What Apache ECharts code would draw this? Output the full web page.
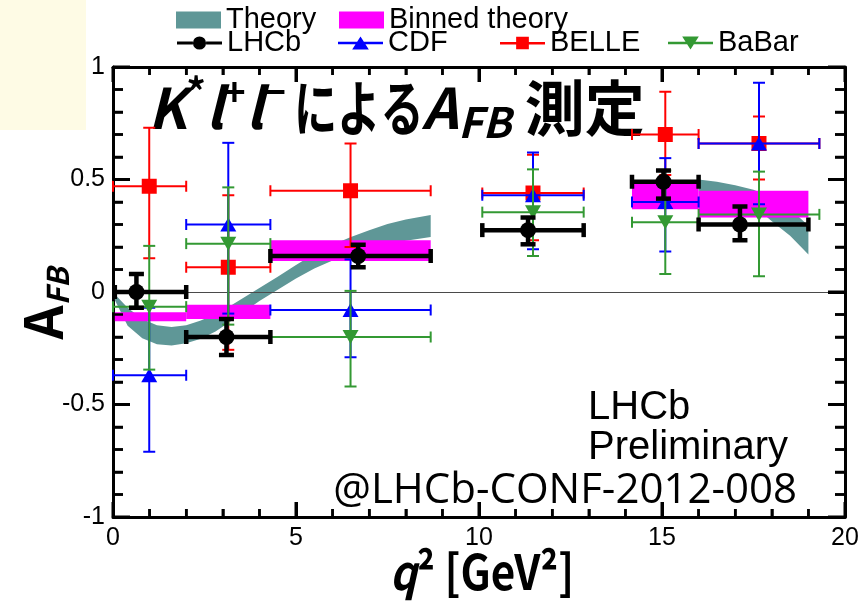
<!DOCTYPE html>
<html>
<head>
<meta charset="utf-8">
<script src="https://cdn.jsdelivr.net/npm/echarts@6/dist/echarts.min.js"></script>
<style>
  html, body { margin: 0; padding: 0; background: #ffffff; }
  #chart { width: 863px; height: 601px; }
</style>
</head>
<body>
<div id="chart"></div>
<script>
// Axis ranges and tick positions
const q2Range = [0, 20];
const afbRange = [-1, 1];
const q2TickStep = 5;
const afbTickStep = 0.5;
const q2Ticks = [0, 5, 10, 15, 20];
const q2MinorTicks = [1, 2, 3, 4, 6, 7, 8, 9, 11, 12, 13, 14, 16, 17, 18, 19];
const afbTicks = [-1, -0.5, 0, 0.5, 1];
const afbMinorTicks = [-0.9, -0.8, -0.7, -0.6, -0.4, -0.3, -0.2, -0.1, 0.1, 0.2, 0.3, 0.4, 0.6, 0.7, 0.8, 0.9];

// Measurements per q² bin: [q2Lo, q2Hi, q2Point, afb, errDown, errUp]
const lhcb = [
  [0.05, 2.00, 0.64, 0.00, 0.07, 0.08],
  [2.00, 4.30, 3.10, -0.20, 0.08, 0.08],
  [4.30, 8.68, 6.70, 0.16, 0.05, 0.05],
  [10.09, 12.86, 11.34, 0.275, 0.063, 0.056],
  [14.18, 16.00, 15.04, 0.49, 0.075, 0.05],
  [16.00, 19.00, 17.13, 0.30, 0.07, 0.08]
];
const cdf = [
  [0.00, 2.00, 0.99, -0.37, 0.34, 0.30],
  [2.00, 4.30, 3.15, 0.30, 0.396, 0.363],
  [4.30, 8.68, 6.49, -0.08, 0.21, 0.225],
  [10.09, 12.86, 11.475, 0.43, 0.24, 0.19],
  [14.18, 16.00, 15.09, 0.40, 0.22, 0.195],
  [16.00, 19.30, 17.65, 0.66, 0.27, 0.27]
];
const belle = [
  [0.00, 2.00, 0.99, 0.47, 0.32, 0.26],
  [2.00, 4.30, 3.15, 0.11, 0.367, 0.32],
  [4.30, 8.68, 6.49, 0.45, 0.25, 0.21],
  [10.09, 12.86, 11.475, 0.44, 0.21, 0.17],
  [14.18, 16.00, 15.09, 0.70, 0.18, 0.19],
  [16.00, 19.30, 17.65, 0.66, 0.16, 0.12]
];
const babar = [
  [0.00, 2.00, 0.99, -0.065, 0.28, 0.27],
  [2.00, 4.30, 3.15, 0.215, 0.36, 0.25],
  [4.30, 8.68, 6.49, -0.20, 0.22, 0.205],
  [10.09, 12.86, 11.475, 0.355, 0.195, 0.19],
  [14.18, 16.00, 15.09, 0.31, 0.23, 0.23],
  [16.00, 19.30, 17.65, 0.345, 0.275, 0.19]
];

// Binned SM prediction: [q2Lo, q2Hi, afbLo, afbHi]
const binnedTheory = [
  [0.05, 2.00, -0.13, -0.09],
  [2.00, 4.30, -0.12, -0.057],
  [4.30, 8.68, 0.138, 0.23],
  [14.18, 16.00, 0.368, 0.488],
  [16.00, 19.00, 0.331, 0.45]
];

// SM prediction band: [q2, afbLo, afbHi]
const theoryBandLow = [
  [0.05, -0.035, -0.01], [0.4, -0.15, -0.07], [0.8, -0.205, -0.12],
  [1.2, -0.232, -0.148], [1.6, -0.238, -0.155], [2.0, -0.228, -0.148],
  [2.4, -0.208, -0.127], [2.8, -0.175, -0.098], [3.2, -0.132, -0.062],
  [3.6, -0.085, -0.022], [4.0, -0.04, 0.018], [4.5, 0.01, 0.068],
  [5.0, 0.06, 0.12], [5.5, 0.105, 0.17], [6.0, 0.14, 0.21],
  [6.5, 0.168, 0.245], [7.0, 0.192, 0.275], [7.5, 0.212, 0.302],
  [8.0, 0.228, 0.322], [8.68, 0.245, 0.342]
];
const theoryBandHigh = [
  [16.0, 0.45, 0.50], [16.5, 0.44, 0.49], [17.0, 0.42, 0.475],
  [17.5, 0.385, 0.455], [18.0, 0.315, 0.42], [18.5, 0.25, 0.37],
  [19.0, 0.167, 0.295]
];

const COLORS = {
  theory: '#5f9797',
  binned: '#ff00ff',
  lhcb: '#000000',
  cdf: '#0000ff',
  belle: '#ff0000',
  babar: '#339933'
};

const chart = echarts.init(document.getElementById('chart'), null, { renderer: 'canvas' });

// Shaded band through the library's coordinate system
function bandSeries(name, band, z) {
  return {
    type: 'custom', name: name, z: z, silent: true,
    data: [band[0]],
    renderItem: function (params, api) {
      const upper = band.map(function (r) { return api.coord([r[0], r[2]]); });
      const lower = band.slice().reverse().map(function (r) { return api.coord([r[0], r[1]]); });
      return {
        type: 'polygon',
        shape: { points: upper.concat(lower) },
        style: { fill: COLORS.theory, stroke: null }
      };
    }
  };
}

// Error crosses: horizontal bin width plus vertical uncertainty, both capped
function errorSeries(name, rows, color, lw, capX, capY, z) {
  return {
    type: 'custom', name: name, z: z, silent: true,
    data: rows,
    renderItem: function (params, api) {
      const lo = api.value(0), hi = api.value(1), xc = api.value(2);
      const y = api.value(3), dn = api.value(4), up = api.value(5);
      const pL = api.coord([lo, y]);
      const pR = api.coord([hi, y]);
      const pB = api.coord([xc, y - dn]);
      const pT = api.coord([xc, y + up]);
      const seg = function (x1, y1, x2, y2) {
        return { type: 'line', shape: { x1: x1, y1: y1, x2: x2, y2: y2 },
          style: { stroke: color, lineWidth: lw, fill: null } };
      };
      return {
        type: 'group',
        children: [
          seg(pL[0], pL[1], pR[0], pR[1]),
          seg(pB[0], pB[1], pT[0], pT[1]),
          seg(pL[0], pL[1] - capX, pL[0], pL[1] + capX),
          seg(pR[0], pR[1] - capX, pR[0], pR[1] + capX),
          seg(pB[0] - capY, pB[1], pB[0] + capY, pB[1]),
          seg(pT[0] - capY, pT[1], pT[0] + capY, pT[1])
        ]
      };
    }
  };
}

function markerSeries(name, rows, color, symbol, size, rotate, z) {
  return {
    type: 'scatter', name: name, z: z, silent: true,
    data: rows.map(function (r) { return [r[2], r[3]]; }),
    symbol: symbol, symbolSize: size, symbolRotate: rotate,
    itemStyle: { color: color, opacity: 1, borderWidth: 0 },
    emphasis: { disabled: true }
  };
}

const binnedSeries = {
  type: 'custom', name: 'Binned theory', z: 3, silent: true,
  data: binnedTheory,
  renderItem: function (params, api) {
    const a = api.coord([api.value(0), api.value(3)]);
    const b = api.coord([api.value(1), api.value(2)]);
    return {
      type: 'rect',
      shape: { x: a[0], y: a[1], width: b[0] - a[0], height: b[1] - a[1] },
      style: { fill: COLORS.binned, stroke: null }
    };
  },
  markLine: {
    silent: true, symbol: 'none', animation: false,
    label: { show: false },
    lineStyle: { color: '#4a4a4a', width: 1.2, type: 'solid' },
    data: [{ yAxis: 0 }]
  }
};

// Inward tick marks on all four sides of the frame
const frameTickSeries = {
  type: 'custom', name: 'frame ticks', z: 30, silent: true,
  data: [[q2Range[0], afbRange[0]]],
  renderItem: function (params, api) {
    const children = [];
    const add = function (x1, y1, x2, y2, w) {
      children.push({ type: 'line', shape: { x1: x1, y1: y1, x2: x2, y2: y2 },
        style: { stroke: '#000', lineWidth: w, fill: null } });
    };
    const xTick = function (v, len, w) {
      const b = api.coord([v, afbRange[0]]);
      const t = api.coord([v, afbRange[1]]);
      add(b[0], b[1], b[0], b[1] - len, w);
      add(t[0], t[1], t[0], t[1] + len, w);
    };
    const yTick = function (v, len, w) {
      const l = api.coord([q2Range[0], v]);
      const r = api.coord([q2Range[1], v]);
      add(l[0], l[1], l[0] + len, l[1], w);
      add(r[0], r[1], r[0] - len, r[1], w);
    };
    q2Ticks.forEach(function (v) { xTick(v, 15, 3); });
    q2MinorTicks.forEach(function (v) { xTick(v, 8, 2.5); });
    afbTicks.forEach(function (v) { yTick(v, 17, 3); });
    afbMinorTicks.forEach(function (v) { yTick(v, 10, 2.5); });
    return { type: 'group', children: children };
  }
};

function xAxisDef(position, showLabel) {
  return {
    type: 'value', position: position, min: q2Range[0], max: q2Range[1], interval: q2TickStep,
    axisLine: { show: true, onZero: false, lineStyle: { color: '#000', width: 3 } },
    axisTick: { show: true, inside: true, length: 15, lineStyle: { color: '#000', width: 3 } },
    minorTick: { show: true, splitNumber: 5, length: 8, lineStyle: { color: '#000', width: 2.5 } },
    axisLabel: { show: showLabel, margin: 9, fontFamily: 'Liberation Sans', fontSize: 25, color: '#000' },
    splitLine: { show: false }
  };
}
function yAxisDef(position, showLabel) {
  return {
    type: 'value', position: position, min: afbRange[0], max: afbRange[1], interval: afbTickStep,
    axisLine: { show: true, onZero: false, lineStyle: { color: '#000', width: 3 } },
    axisTick: { show: true, inside: true, length: 17, lineStyle: { color: '#000', width: 3 } },
    minorTick: { show: true, splitNumber: 5, length: 10, lineStyle: { color: '#000', width: 2.5 } },
    axisLabel: { show: showLabel, margin: 8, fontFamily: 'Liberation Sans', fontSize: 25, color: '#000' },
    splitLine: { show: false }
  };
}

function legendBox(name, left, top, icon, color, w, h) {
  return {
    show: true, left: left, top: top, padding: 0, orient: 'horizontal',
    selectedMode: false, itemWidth: w, itemHeight: h, itemGap: 0,
    textStyle: { fontFamily: 'Liberation Sans', fontSize: 29, color: '#000', lineHeight: 30 },
    data: [{ name: name, icon: icon, itemStyle: { color: color, borderWidth: 0 } }]
  };
}

const ICONS = {
  lhcb: 'path://M0,7h17v3h-17z M31,7h17v3h-17z M17,8.5a7,7 0 1,1 14,0a7,7 0 1,1 -14,0z',
  cdf: 'path://M0,7h46v2.5h-46z M14.5,15L23,1.5L31.5,15z',
  belle: 'path://M0,7h46v2.5h-46z M16.5,1.5h13v13h-13z',
  babar: 'path://M0,7h46v2.5h-46z M14.5,1.5L31.5,1.5L23,15z'
};

const jpFont = 'Noto Sans CJK JP';

const option = {
  animation: false,
  backgroundColor: '#ffffff',
  grid: { left: 113, right: 18, top: 67, bottom: 84 },
  xAxis: [xAxisDef('bottom', true), xAxisDef('top', false)],
  yAxis: [yAxisDef('left', true), yAxisDef('right', false)],
  legend: [
    legendBox('Theory', 176, 5, 'rect', COLORS.theory, 45, 17),
    legendBox('Binned theory', 339, 5, 'rect', COLORS.binned, 45, 17),
    legendBox('LHCb', 177, 28, ICONS.lhcb, COLORS.lhcb, 45, 15),
    legendBox('CDF', 338, 28, ICONS.cdf, COLORS.cdf, 45, 15),
    legendBox('BELLE', 500, 28, ICONS.belle, COLORS.belle, 45, 15),
    legendBox('BaBar', 668, 28, ICONS.babar, COLORS.babar, 45, 15)
  ],
  series: [
    bandSeries('Theory', theoryBandLow, 2),
    bandSeries('Theory', theoryBandHigh, 2),
    binnedSeries,
    errorSeries('BELLE', belle, COLORS.belle, 2, 5.5, 6, 10),
    markerSeries('BELLE', belle, COLORS.belle, 'rect', 15, 0, 11),
    errorSeries('CDF', cdf, COLORS.cdf, 2, 5.5, 6, 12),
    markerSeries('CDF', cdf, COLORS.cdf, 'triangle', [16, 14], 0, 13),
    errorSeries('BaBar', babar, COLORS.babar, 2, 5.5, 6, 14),
    markerSeries('BaBar', babar, COLORS.babar, 'triangle', [16, 14], 180, 15),
    errorSeries('LHCb', lhcb, COLORS.lhcb, 4.5, 7, 7.5, 16),
    markerSeries('LHCb', lhcb, COLORS.lhcb, 'circle', 16, 0, 17),
    frameTickSeries
  ],
  graphic: [
    { type: 'rect', silent: true, shape: { x: 0, y: 0, width: 86, height: 130 },
      style: { fill: '#fefbe5' } },
    // Title pieces
    { type: 'text', x: 148, y: 73, silent: true,
      style: {
        text: '{it|K}{sup|*}{it|l}{sup|+}{it|l}{sup|\u2212}',
        textAlign: 'left', textVerticalAlign: 'top', align: 'left', verticalAlign: 'top',
        rich: {
          it: { fontFamily: jpFont, fontSize: 56, fontWeight: 'bold', fontStyle: 'italic', lineHeight: 70, fill: '#000' },
          sup: { fontFamily: jpFont, fontSize: 38, fontWeight: 'bold', lineHeight: 44, verticalAlign: 'top', fill: '#000' }
        }
      } },
    { type: 'text', x: 294, y: 73, scaleX: 0.72, silent: true,
      style: {
        text: '{jp|による}',
        textAlign: 'left', textVerticalAlign: 'top', align: 'left', verticalAlign: 'top',
        rich: { jp: { fontFamily: jpFont, fontSize: 60, fontWeight: 'bold', lineHeight: 70, fill: '#000' } }
      } },
    { type: 'text', x: 422, y: 73, silent: true,
      style: {
        text: '{it|A}{sub|FB}{jp| 測定}',
        textAlign: 'left', textVerticalAlign: 'top', align: 'left', verticalAlign: 'top',
        rich: {
          it: { fontFamily: jpFont, fontSize: 56, fontWeight: 'bold', fontStyle: 'italic', lineHeight: 70, fill: '#000' },
          sub: { fontFamily: jpFont, fontSize: 42, fontWeight: 'bold', fontStyle: 'italic', lineHeight: 30, verticalAlign: 'bottom', fill: '#000' },
          jp: { fontFamily: jpFont, fontSize: 60, fontWeight: 'bold', lineHeight: 70, fill: '#000' }
        }
      } },
    // Axis titles
    { type: 'text', x: 482, y: 572, scaleX: 0.88, silent: true,
      style: {
        text: '{q|q}{n|\u00b2 [GeV\u00b2]}',
        textAlign: 'center', textVerticalAlign: 'middle', align: 'center', verticalAlign: 'middle',
        rich: {
          q: { fontFamily: jpFont, fontSize: 48, fontWeight: 'bold', fontStyle: 'italic', lineHeight: 56, fill: '#000' },
          n: { fontFamily: jpFont, fontSize: 48, fontWeight: 'bold', lineHeight: 56, fill: '#000' }
        }
      } },
    { type: 'text', x: 42.5, y: 303.5, rotation: Math.PI / 2, silent: true,
      style: {
        text: '{a|A}{fb|FB}',
        textAlign: 'center', textVerticalAlign: 'middle', align: 'center', verticalAlign: 'middle',
        rich: {
          a: { fontFamily: jpFont, fontSize: 53, fontWeight: 'bold', lineHeight: 60, fill: '#000' },
          fb: { fontFamily: jpFont, fontSize: 30, fontWeight: 'bold', fontStyle: 'italic', lineHeight: 22, verticalAlign: 'bottom', fill: '#000' }
        }
      } },
    // Experiment note
    { type: 'text', x: 588, y: 407.5, silent: true,
      style: { text: 'LHCb', fontFamily: 'Liberation Sans', fontSize: 40, fill: '#000',
        textAlign: 'left', textVerticalAlign: 'middle', align: 'left', verticalAlign: 'middle' } },
    { type: 'text', x: 588, y: 447.5, silent: true,
      style: { text: 'Preliminary', fontFamily: 'Liberation Sans', fontSize: 40, fill: '#000',
        textAlign: 'left', textVerticalAlign: 'middle', align: 'left', verticalAlign: 'middle' } },
    { type: 'text', x: 797, y: 491, silent: true,
      style: { text: '@LHCb-CONF-2012-008', fontFamily: 'Open Sans', fontSize: 42, fill: '#000',
        textAlign: 'right', textVerticalAlign: 'middle', align: 'right', verticalAlign: 'middle' } }
  ]
};

chart.setOption(option);
</script>
</body>
</html>
